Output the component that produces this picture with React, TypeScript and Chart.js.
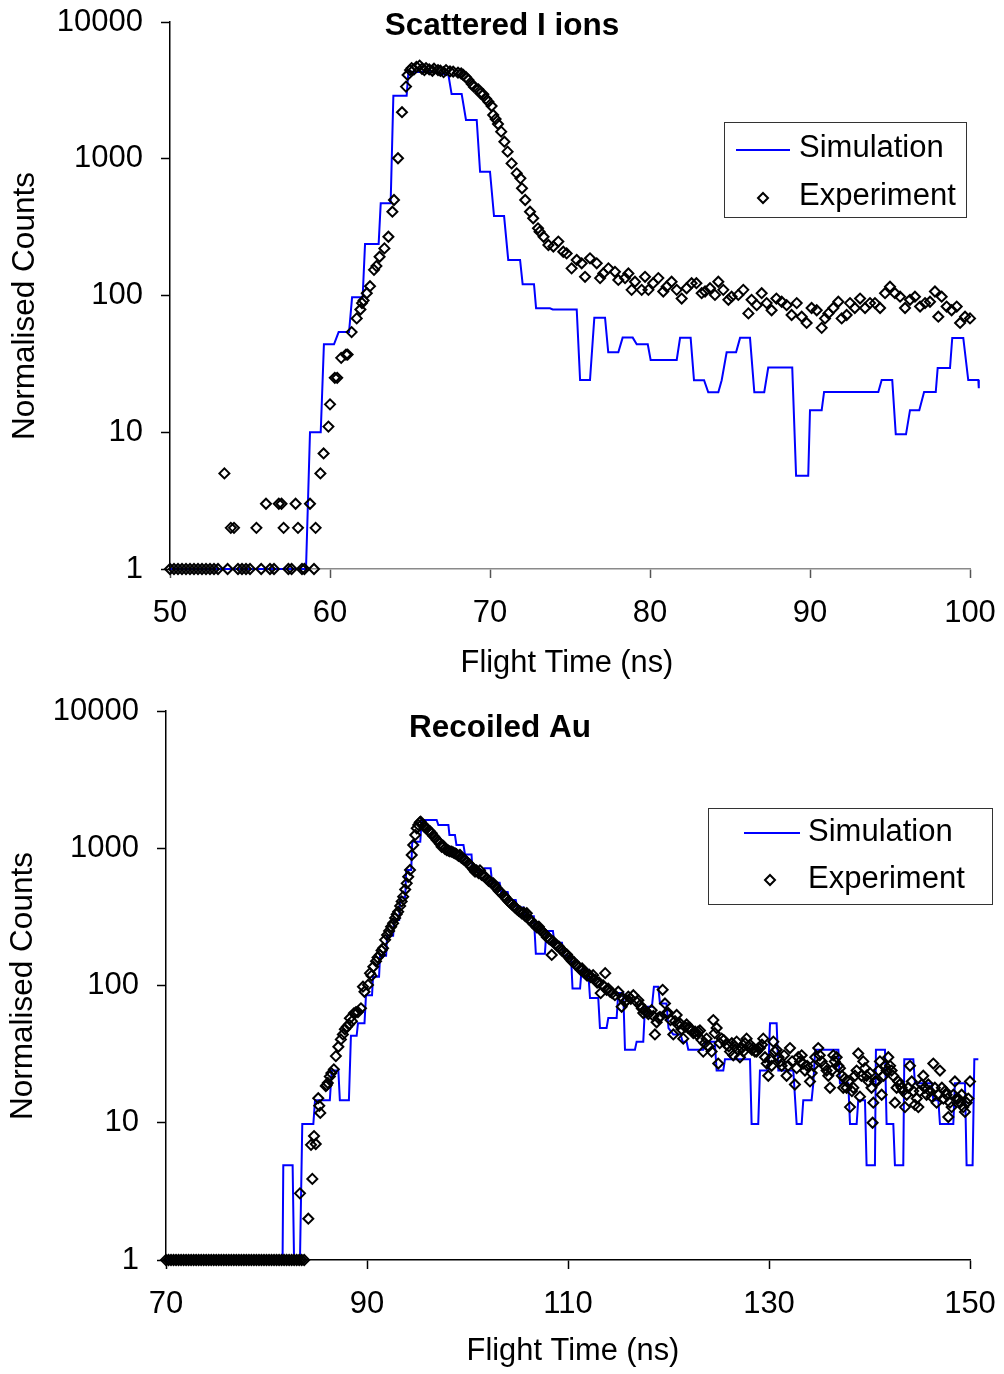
import React, { useEffect, useRef } from "react";
import { Chart, registerables } from "chart.js";
Chart.register(...registerables);

const FONT = "'Liberation Sans', Arial, Helvetica, sans-serif";

// ---------- text ----------
const topTitle = "Scattered I ions";
const bottomTitle = "Recoiled Au";
const xAxisTitle = "Flight Time (ns)";
const yAxisTitle = "Normalised Counts";
const legendLabels = ["Simulation", "Experiment"];

// ---------- tick labels ----------
const yTickValues = [1, 10, 100, 1000, 10000];
const topXTicks = [50, 60, 70, 80, 90, 100];
const bottomXTicks = [70, 90, 110, 130, 150];

// ---------- data: [flight time (ns), normalised counts] ----------
const topSimulation: number[][] = [
  [50, 1], [58.5, 1], [58.75, 10], [59.42, 10], [59.62, 44], [60.25, 44], [60.54, 54], [61.19, 54],
  [61.38, 97], [62.04, 97], [62.19, 238], [63.04, 238], [63.17, 472], [63.79, 472], [63.96, 2890],
  [64.79, 2890], [64.9, 4330], [66.5, 4300], [67.4, 4100], [67.6, 2970], [68.23, 2970], [68.5, 1920],
  [69.17, 1920], [69.38, 804], [70, 804], [70.25, 381], [70.88, 381], [71.14, 182], [71.88, 182],
  [72.04, 121], [72.75, 121], [72.88, 80.6], [73.75, 80.6], [73.92, 79], [75.42, 79], [75.63, 24.1],
  [76.25, 24.1], [76.52, 68.8], [77.19, 68.8], [77.39, 38.4], [78.02, 38.4], [78.29, 49.2], [78.92, 49.2],
  [79.17, 44], [79.86, 44], [80.04, 33.8], [81.67, 33.8], [81.88, 49], [82.54, 49], [82.75, 24],
  [83.38, 24], [83.64, 19.6], [84.27, 19.6], [84.48, 24], [84.79, 38.4], [85.38, 38.4], [85.63, 49],
  [86.25, 49], [86.52, 19.6], [87.14, 19.6], [87.39, 29.7], [88.89, 29.7], [89.13, 4.81], [89.89, 4.81],
  [90, 14.5], [90.73, 14.5], [90.88, 19.7], [94.27, 19.7], [94.48, 24.1], [95.14, 24.1], [95.36, 9.66],
  [96, 9.66], [96.25, 14.5], [96.83, 14.5], [97.13, 19.7], [97.86, 19.7], [97.98, 29.5], [98.75, 29.5],
  [98.89, 48.9], [99.58, 48.9], [99.89, 24.1], [100.52, 24.1], [100.55, 21],
];

const topExperiment: number[][] = [
  [50, 1], [50.25, 1], [50.5, 1], [50.75, 1], [51, 1], [51.25, 1], [51.5, 1], [51.75, 1], [52, 1],
  [52.25, 1], [52.5, 1], [52.75, 1], [53, 1], [53.4, 5], [53.6, 1], [53.8, 2], [54, 2], [54.25, 1],
  [54.5, 1], [54.75, 1], [55, 1], [55.4, 2], [55.7, 1], [56, 3], [56.25, 1], [56.5, 1], [56.8, 3],
  [56.97, 3], [57.1, 2], [57.4, 1], [57.6, 1], [57.85, 3], [58, 2], [58.25, 1], [58.4, 1], [58.75, 3],
  [59, 1], [59.1, 2], [59.4, 5], [59.6, 7], [59.9, 11], [60, 16], [60.3, 25], [60.45, 25], [60.7, 35],
  [61, 37], [61.1, 37], [61.35, 54], [61.67, 68], [61.9, 79], [62, 88], [62.1, 92], [62.3, 104],
  [62.5, 117], [62.75, 154], [62.9, 164], [63.1, 192], [63.4, 221], [63.65, 269], [63.9, 410], [64, 499],
  [64.25, 1008], [64.5, 2190], [64.75, 3370], [64.85, 4100], [65, 4450], [65.1, 4600], [65.25, 4500],
  [65.4, 4700], [65.6, 4800], [65.75, 4550], [65.9, 4450], [66, 4600], [66.2, 4500], [66.4, 4400],
  [66.5, 4550], [66.75, 4450], [66.9, 4400], [67.1, 4300], [67.25, 4450], [67.5, 4350], [67.7, 4330],
  [68, 4260], [68.2, 4200], [68.33, 4100], [68.5, 3950], [68.65, 3770], [68.86, 3520], [69, 3350],
  [69.27, 3220], [69.4, 3010], [69.58, 2960], [69.75, 2750], [69.9, 2610], [70.1, 2430], [70.2, 2090],
  [70.35, 1950], [70.5, 1795], [70.7, 1578], [70.9, 1333], [71.1, 1127], [71.35, 925], [71.67, 782],
  [71.9, 719], [72, 608], [72.2, 499], [72.5, 410], [72.7, 367], [73, 310], [73.1, 293], [73.35, 269],
  [73.65, 234], [73.96, 228], [74.27, 248], [74.58, 209], [74.79, 203], [75.1, 158], [75.42, 182],
  [75.73, 172], [75.94, 137], [76.25, 187], [76.67, 172], [76.88, 134], [77.08, 145], [77.4, 158],
  [77.81, 149], [78.02, 130], [78.44, 134], [78.65, 145], [78.85, 110], [79.06, 126], [79.48, 110],
  [79.69, 137], [79.9, 110], [80.2, 123], [80.52, 134], [80.83, 107], [81.04, 116], [81.35, 126],
  [81.67, 110], [81.98, 95], [82.29, 113], [82.6, 123], [82.9, 123], [83.23, 104], [83.44, 107],
  [83.75, 113], [84.06, 101], [84.27, 126], [84.58, 110], [84.9, 93], [85.1, 98], [85.52, 101],
  [85.83, 110], [86.15, 74], [86.35, 93], [86.67, 85], [86.98, 104], [87.29, 88], [87.6, 78], [87.9, 95],
  [88.23, 90], [88.54, 85], [88.85, 72], [89.17, 88], [89.48, 70], [89.79, 63], [90.1, 81], [90.42, 78],
  [90.73, 58], [90.94, 68], [91.15, 74], [91.46, 81], [91.77, 90], [91.98, 68], [92.29, 72], [92.5, 88],
  [92.8, 81], [93.13, 95], [93.44, 81], [93.75, 88], [94.06, 88], [94.38, 81], [94.69, 104], [95, 116],
  [95.31, 104], [95.63, 98], [95.94, 81], [96.25, 93], [96.56, 98], [96.88, 83], [97.19, 88], [97.5, 90],
  [97.81, 107], [98.02, 70], [98.23, 98], [98.54, 83], [98.85, 78], [99.17, 83], [99.38, 63], [99.69, 70],
  [100, 68],
];

const bottomSimulation: number[][] = [
  [70, 1], [81.6, 1], [81.67, 4.9], [82.6, 4.9], [82.74, 1], [83.33, 1], [83.56, 9.8], [84.66, 9.8],
  [84.83, 14.6], [86.3, 14.6], [86.49, 24], [87.15, 24], [87.3, 14.6], [88.2, 14.6], [88.4, 43],
  [88.97, 43], [89.1, 53], [89.75, 53], [89.9, 85], [90.5, 85], [90.6, 116], [91.2, 116], [91.3, 165],
  [91.9, 165], [92, 230], [92.6, 230], [92.7, 300], [93.2, 300], [93.3, 440], [93.8, 440], [93.9, 695],
  [94.4, 695], [94.5, 1116], [95.3, 1116], [95.44, 1607], [96.93, 1607], [97.1, 1477], [98.1, 1477],
  [98.2, 1250], [98.75, 1250], [98.9, 1056], [99.6, 1056], [99.75, 900], [100.4, 900], [100.5, 680],
  [101.5, 680], [101.7, 714], [102.3, 714], [102.45, 560], [103.2, 560], [103.35, 480], [104, 480],
  [104.15, 420], [104.8, 420], [104.95, 370], [105.6, 370], [105.75, 320], [106.6, 320], [106.8, 170],
  [107.7, 170], [107.85, 250], [108.5, 250], [108.65, 205], [109.4, 205], [109.55, 165], [110.3, 165],
  [110.45, 95], [111.2, 95], [111.35, 130], [112, 130], [112.19, 81], [113.01, 81], [113.18, 49],
  [113.84, 49], [114.01, 58], [114.84, 58], [115, 88], [115.5, 88], [115.67, 34], [116.66, 34],
  [116.83, 39], [117.49, 39], [117.66, 70], [118.35, 70], [118.55, 98], [118.98, 98], [119.15, 74],
  [119.8, 74], [120, 49], [120.48, 44], [121.2, 44], [121.4, 39], [121.8, 39], [121.97, 34], [123.46, 34],
  [123.65, 39], [124.6, 39], [124.79, 24], [125.45, 24], [125.62, 29], [128.11, 29], [128.27, 9.8],
  [128.93, 9.8], [129.1, 24], [129.93, 24], [130.1, 53], [130.76, 53], [130.93, 24], [132.42, 24],
  [132.75, 9.8], [133.25, 9.8], [133.41, 14.6], [134.24, 14.6], [134.41, 19.4], [134.6, 34], [136.9, 34],
  [137.06, 19.4], [137.89, 19.4], [138.06, 9.8], [138.72, 9.8], [138.88, 14.6], [139.55, 14.6],
  [139.71, 4.9], [140.54, 4.9], [140.64, 34], [141.54, 34], [141.7, 9.8], [142.37, 9.8], [142.53, 4.9],
  [143.36, 4.9], [143.46, 29], [144.36, 29], [144.52, 19.4], [146.2, 19.4], [146.35, 14.6], [146.85, 14.6],
  [147.01, 9.8], [148.34, 9.8], [148.5, 19.4], [149.5, 19.4], [149.66, 4.9], [150.26, 4.9], [150.43, 29],
  [150.83, 29],
];

const bottomExperiment: number[][] = [
  [70, 1], [70.25, 1], [70.5, 1], [70.75, 1], [71, 1], [71.25, 1], [71.5, 1], [71.75, 1], [72, 1],
  [72.25, 1], [72.5, 1], [72.75, 1], [73, 1], [73.25, 1], [73.5, 1], [73.75, 1], [74, 1], [74.25, 1],
  [74.5, 1], [74.75, 1], [75, 1], [75.25, 1], [75.5, 1], [75.75, 1], [76, 1], [76.25, 1], [76.5, 1],
  [76.75, 1], [77, 1], [77.25, 1], [77.5, 1], [77.75, 1], [78, 1], [78.25, 1], [78.5, 1], [78.75, 1],
  [79, 1], [79.25, 1], [79.5, 1], [79.75, 1], [80, 1], [80.25, 1], [80.5, 1], [80.75, 1], [81, 1],
  [81.25, 1], [81.5, 1], [81.75, 1], [82, 1], [82.25, 1], [82.5, 1], [82.75, 1], [83, 1], [83.25, 1],
  [83.5, 1], [83.75, 1],
  [83.33, 3.06], [84.16, 2], [84.43, 6.9], [84.56, 3.9], [84.73, 8], [84.9, 7], [85.15, 15.1],
  [85.25, 13.3], [85.35, 11.8], [85.9, 18.5], [86, 18.8], [86.1, 19.5], [86.3, 21.7], [86.45, 23],
  [86.7, 24.5], [86.9, 30.6], [87.15, 35.8], [87.4, 40.5], [87.6, 44], [87.8, 48], [88, 50], [88.2, 52],
  [88.3, 57.7], [88.5, 55], [88.7, 62.7], [88.9, 64], [89.1, 64], [89.4, 68.2], [89.6, 98], [89.75, 90],
  [90.1, 101], [90.3, 123], [90.45, 118], [90.63, 137], [90.9, 150], [91.05, 160], [91.29, 167],
  [91.45, 180], [91.6, 187], [91.8, 215], [92, 233], [92.2, 250], [92.4, 268], [92.6, 284], [92.8, 310],
  [92.95, 330], [93.1, 345], [93.3, 380], [93.45, 410], [93.6, 444], [93.8, 500], [93.95, 555],
  [94.1, 620], [94.28, 695], [94.45, 893], [94.6, 1056], [94.8, 1250], [94.95, 1397], [95.1, 1480],
  [95.25, 1540], [95.34, 1563], [95.5, 1500], [95.65, 1450], [95.8, 1420], [95.94, 1397], [96.1, 1340],
  [96.25, 1330], [96.44, 1285], [96.6, 1230], [96.75, 1200], [96.93, 1148], [97.1, 1120], [97.25, 1080],
  [97.43, 1026], [97.6, 1040], [97.75, 990], [97.93, 971], [98.1, 960], [98.25, 950], [98.43, 944],
  [98.6, 930], [98.76, 917], [98.9, 905], [99.1, 880], [99.25, 893], [99.4, 850], [99.6, 830],
  [99.75, 821], [99.9, 800], [100.1, 770], [100.25, 755], [100.4, 730], [100.6, 700], [100.75, 675],
  [100.9, 690], [101.1, 660], [101.24, 690], [101.4, 640], [101.6, 630], [101.74, 621], [101.9, 600],
  [102.1, 580], [102.24, 571], [102.4, 560], [102.57, 555], [102.75, 530], [102.9, 511], [103.1, 490],
  [103.25, 480], [103.4, 470], [103.6, 450], [103.75, 440], [103.9, 425], [104.1, 410], [104.25, 400],
  [104.4, 390], [104.6, 380], [104.75, 370], [104.9, 360], [105.1, 350], [105.25, 345], [105.4, 335],
  [105.6, 340], [105.75, 320], [105.9, 336], [106.1, 305], [106.25, 300], [106.4, 290], [106.6, 280],
  [106.75, 275], [106.9, 265], [107.1, 268], [107.25, 255], [107.4, 250], [107.6, 240], [107.75, 235],
  [107.9, 225], [108.1, 220], [108.25, 215], [108.38, 167], [108.5, 210], [108.75, 200], [108.9, 195],
  [109.1, 192], [109.25, 185], [109.4, 180], [109.6, 175], [109.75, 170], [109.9, 168], [110.1, 160],
  [110.25, 155], [110.4, 150], [110.6, 148], [110.75, 142], [110.9, 140], [111.1, 135], [111.25, 130],
  [111.4, 133], [111.6, 125], [111.75, 122], [111.9, 118], [112.1, 120], [112.25, 115], [112.5, 119],
  [112.7, 110], [112.9, 105], [113.1, 105], [113.25, 88], [113.5, 100], [113.7, 123], [113.84, 93],
  [114, 95], [114.2, 90], [114.4, 88], [114.67, 85], [115, 90], [115.34, 70], [115.5, 80], [115.67, 76],
  [115.85, 78], [116, 83], [116.25, 80], [116.5, 85], [116.83, 76], [117, 78], [117.16, 72], [117.35, 68],
  [117.49, 63], [117.65, 66], [117.82, 64], [118, 62], [118.32, 66], [118.5, 60], [118.65, 44],
  [118.82, 54], [119, 58], [119.15, 59], [119.42, 93], [119.65, 74], [119.8, 63], [119.98, 63],
  [120.2, 56], [120.48, 44], [120.65, 55], [120.81, 61], [120.95, 52], [121.14, 53], [121.3, 48],
  [121.47, 41], [121.65, 50], [121.8, 52], [121.95, 49], [122.14, 49], [122.3, 47], [122.47, 45],
  [122.65, 46], [122.8, 44], [122.95, 46], [123.13, 47], [123.3, 40], [123.46, 33], [123.6, 38],
  [123.79, 41], [124, 36], [124.29, 33], [124.46, 56], [124.6, 45], [124.79, 49], [124.95, 27],
  [125.1, 38], [125.29, 41], [125.5, 40], [125.78, 37], [126, 36], [126.12, 33], [126.3, 38],
  [126.45, 31], [126.6, 36], [126.78, 39], [126.95, 34], [127.11, 30], [127.3, 35], [127.44, 33],
  [127.6, 38], [127.77, 41], [127.95, 36], [128.11, 37], [128.3, 34], [128.44, 35], [128.6, 33],
  [128.77, 33], [128.95, 35], [129.1, 35], [129.3, 37], [129.43, 41], [129.6, 30], [129.78, 27],
  [129.93, 22], [130.1, 29], [130.26, 26], [130.43, 39], [130.6, 33], [130.76, 34], [130.95, 30],
  [131.1, 28], [131.26, 26], [131.5, 31], [131.75, 22], [131.9, 26], [132.09, 35], [132.3, 28],
  [132.58, 19], [132.75, 25], [132.91, 30], [133.1, 28], [133.25, 31], [133.4, 27], [133.58, 24],
  [133.8, 26], [134.08, 20], [134.25, 23], [134.41, 26], [134.6, 30], [134.9, 35], [135.05, 31],
  [135.24, 28], [135.5, 26], [135.73, 24], [135.9, 22], [136.07, 18], [136.25, 24], [136.4, 31],
  [136.55, 28], [136.73, 30], [136.9, 26], [137.06, 25], [137.25, 22], [137.39, 18], [137.55, 21],
  [137.72, 18], [137.9, 20], [138.06, 13], [138.25, 17], [138.39, 18], [138.55, 22], [138.72, 24],
  [138.88, 32], [139.05, 15.5], [139.2, 22], [139.38, 28], [139.55, 25], [139.71, 22], [139.9, 20],
  [140.05, 23], [140.2, 18], [140.31, 10], [140.38, 14], [140.55, 20], [140.71, 20], [140.9, 24],
  [141.04, 28], [141.21, 16], [141.4, 22], [141.54, 26], [141.7, 24], [141.87, 30], [142.05, 26],
  [142.2, 24], [142.35, 22], [142.53, 14], [142.7, 18], [142.86, 20], [143, 19], [143.2, 18],
  [143.35, 17], [143.53, 13], [143.7, 16], [143.86, 18], [144.03, 26], [144.2, 20], [144.35, 17],
  [144.52, 13.5], [144.7, 15], [144.86, 13], [145, 17], [145.2, 19], [145.35, 22], [145.5, 18],
  [145.68, 16], [145.85, 19], [146, 17], [146.18, 15.5], [146.35, 27], [146.5, 18], [146.68, 14],
  [146.85, 16], [147.01, 24], [147.2, 18], [147.35, 15], [147.51, 17], [147.67, 16], [147.84, 11],
  [148, 14], [148.17, 13], [148.35, 16], [148.5, 20], [148.67, 15], [148.83, 15], [149, 14], [149.17, 16],
  [149.33, 13], [149.5, 12], [149.67, 14], [149.83, 15], [150, 20],
];

// ---------- layout (pixel geometry of each panel) ----------
type PanelCfg = {
  canvasTop: number; height: number;
  area: { left: number; right: number; top: number; bottom: number };
  xMin: number; xMax: number; xTicks: number[];
  sim: number[][]; exp: number[][];
  title: string; titleX: number; titleY: number;
  yTitleX: number; yTitleY: number; xTitleX: number; xTitleY: number;
  xAxisColor: string; xTickColor: string;
  legend: { x: number; y: number; w: number; h: number; lineX1: number; lineX2: number; lineY: number; textX: number; row1Y: number; row2Y: number; markerX: number; markerY: number };
};

const topPanel: PanelCfg = {
  canvasTop: 0, height: 690,
  area: { left: 170, right: 970, top: 22, bottom: 569 },
  xMin: 50, xMax: 100, xTicks: topXTicks,
  sim: topSimulation, exp: topExperiment,
  title: topTitle, titleX: 502, titleY: 26,
  yTitleX: 25, yTitleY: 306, xTitleX: 567, xTitleY: 664,
  xAxisColor: "#8a8a8a", xTickColor: "#555555",
  legend: { x: 724.5, y: 122.5, w: 242, h: 95, lineX1: 736, lineX2: 790, lineY: 150, textX: 799, row1Y: 148, row2Y: 196, markerX: 763, markerY: 198 },
};

const bottomPanel: PanelCfg = {
  canvasTop: 690, height: 684,
  area: { left: 166, right: 970, top: 21, bottom: 570 },
  xMin: 70, xMax: 150, xTicks: bottomXTicks,
  sim: bottomSimulation, exp: bottomExperiment,
  title: bottomTitle, titleX: 500, titleY: 38,
  yTitleX: 23, yTitleY: 296, xTitleX: 573, xTitleY: 662,
  xAxisColor: "#000000", xTickColor: "#000000",
  legend: { x: 708.5, y: 118.5, w: 284, h: 96, lineX1: 744, lineX2: 800, lineY: 143, textX: 808, row1Y: 142, row2Y: 189, markerX: 770, markerY: 190 },
};

function drawDiamond(ctx: CanvasRenderingContext2D, x: number, y: number, r: number) {
  ctx.beginPath();
  ctx.moveTo(x, y - r);
  ctx.lineTo(x + r, y);
  ctx.lineTo(x, y + r);
  ctx.lineTo(x - r, y);
  ctx.closePath();
  ctx.stroke();
}

function Panel({ cfg }: { cfg: PanelCfg }) {
  const ref = useRef<HTMLCanvasElement | null>(null);
  useEffect(() => {
    const canvas = ref.current;
    if (!canvas) return;
    const p = cfg;
    const overlay = {
      id: "overlay",
      afterDraw(chart: any) {
        const ctx: CanvasRenderingContext2D = chart.ctx;
        ctx.save();
        ctx.fillStyle = "#000";
        ctx.textBaseline = "middle";
        // chart title
        ctx.font = `bold 31.5px ${FONT}`;
        ctx.textAlign = "center";
        ctx.fillText(p.title, p.titleX, p.titleY);
        // x axis title
        ctx.font = `30.8px ${FONT}`;
        ctx.fillText(xAxisTitle, p.xTitleX, p.xTitleY);
        // y axis title
        ctx.save();
        ctx.translate(p.yTitleX, p.yTitleY);
        ctx.rotate(-Math.PI / 2);
        ctx.font = `31.5px ${FONT}`;
        ctx.fillText(yAxisTitle, 0, 0);
        ctx.restore();
        // legend
        const L = p.legend;
        ctx.fillStyle = "#fff";
        ctx.fillRect(L.x, L.y, L.w, L.h);
        ctx.strokeStyle = "#333";
        ctx.lineWidth = 1;
        ctx.strokeRect(L.x, L.y, L.w, L.h);
        ctx.strokeStyle = "#0000ff";
        ctx.lineWidth = 2;
        ctx.beginPath();
        ctx.moveTo(L.lineX1, L.lineY);
        ctx.lineTo(L.lineX2, L.lineY);
        ctx.stroke();
        ctx.strokeStyle = "#000";
        ctx.lineWidth = 2;
        drawDiamond(ctx, L.markerX, L.markerY, 5);
        ctx.fillStyle = "#000";
        ctx.font = `31px ${FONT}`;
        ctx.textAlign = "left";
        ctx.fillText(legendLabels[0], L.textX, L.row1Y);
        ctx.fillText(legendLabels[1], L.textX, L.row2Y);
        ctx.restore();
      },
    };

    const tickFont = { family: FONT, size: 31 };
    const chart = new Chart(canvas, {
      type: "line",
      data: {
        datasets: [
          {
            label: legendLabels[1],
            data: p.exp.map(([x, y]) => ({ x, y })),
            showLine: false,
            pointStyle: "rectRot",
            pointRadius: 5,
            pointBorderWidth: 2,
            pointBorderColor: "#000",
            pointBackgroundColor: "rgba(0,0,0,0)",
            borderColor: "#000",
            clip: false,
            order: 0,
          } as any,
          {
            label: legendLabels[0],
            data: p.sim.map(([x, y]) => ({ x, y })),
            showLine: true,
            pointRadius: 0,
            borderColor: "#0000ff",
            borderWidth: 2,
            tension: 0,
            clip: false,
            order: 1,
          } as any,
        ],
      },
      options: {
        responsive: false,
        maintainAspectRatio: false,
        animation: false,
        events: [],
        layout: { padding: { left: 0, right: 1004 - p.area.right, top: p.area.top, bottom: 0 } },
        plugins: { legend: { display: false }, title: { display: false }, tooltip: { enabled: false } },
        scales: {
          x: {
            type: "linear",
            position: "bottom",
            bounds: "data",
            afterDataLimits: (s: any) => { s.min = p.xMin; s.max = p.xMax; },
            afterBuildTicks: (s: any) => { s.ticks = p.xTicks.map((v) => ({ value: v })); },
            afterFit: (s: any) => {
              s.height = p.height - p.area.bottom;
              s.paddingLeft = 0; s.paddingRight = 0; s.paddingTop = 0; s.paddingBottom = 0;
            },
            ticks: { font: tickFont, color: "#000", padding: 17, maxRotation: 0, autoSkip: false, callback: (v: any) => String(v) },
            grid: { drawOnChartArea: false, drawTicks: true, tickLength: 9, tickColor: p.xTickColor, tickWidth: 1.5 },
            border: { display: true, color: p.xAxisColor, width: 1.5 },
          },
          y: {
            type: "logarithmic",
            position: "left",
            min: 1,
            max: 10000,
            afterBuildTicks: (s: any) => { s.ticks = yTickValues.map((v) => ({ value: v })); },
            afterFit: (s: any) => {
              s.width = p.area.left;
              s.paddingLeft = 0; s.paddingRight = 0; s.paddingTop = 0; s.paddingBottom = 0;
            },
            ticks: { font: tickFont, color: "#000", padding: 18, autoSkip: false, callback: (v: any) => String(v) },
            grid: { drawOnChartArea: false, drawTicks: true, tickLength: 9, tickColor: "#000", tickWidth: 1.5 },
            border: { display: true, color: "#000", width: 1.5 },
          },
        },
      } as any,
      plugins: [overlay],
    });
    return () => chart.destroy();
  }, [cfg]);
  return (
    <canvas
      ref={ref}
      width={1004}
      height={cfg.height}
      style={{ position: "absolute", left: 0, top: cfg.canvasTop, width: 1004, height: cfg.height }}
    />
  );
}

export default function App() {
  return (
    <div style={{ position: "absolute", left: 0, top: 0, width: 1004, height: 1374, background: "#fff" }}>
      <Panel cfg={topPanel} />
      <Panel cfg={bottomPanel} />
    </div>
  );
}
